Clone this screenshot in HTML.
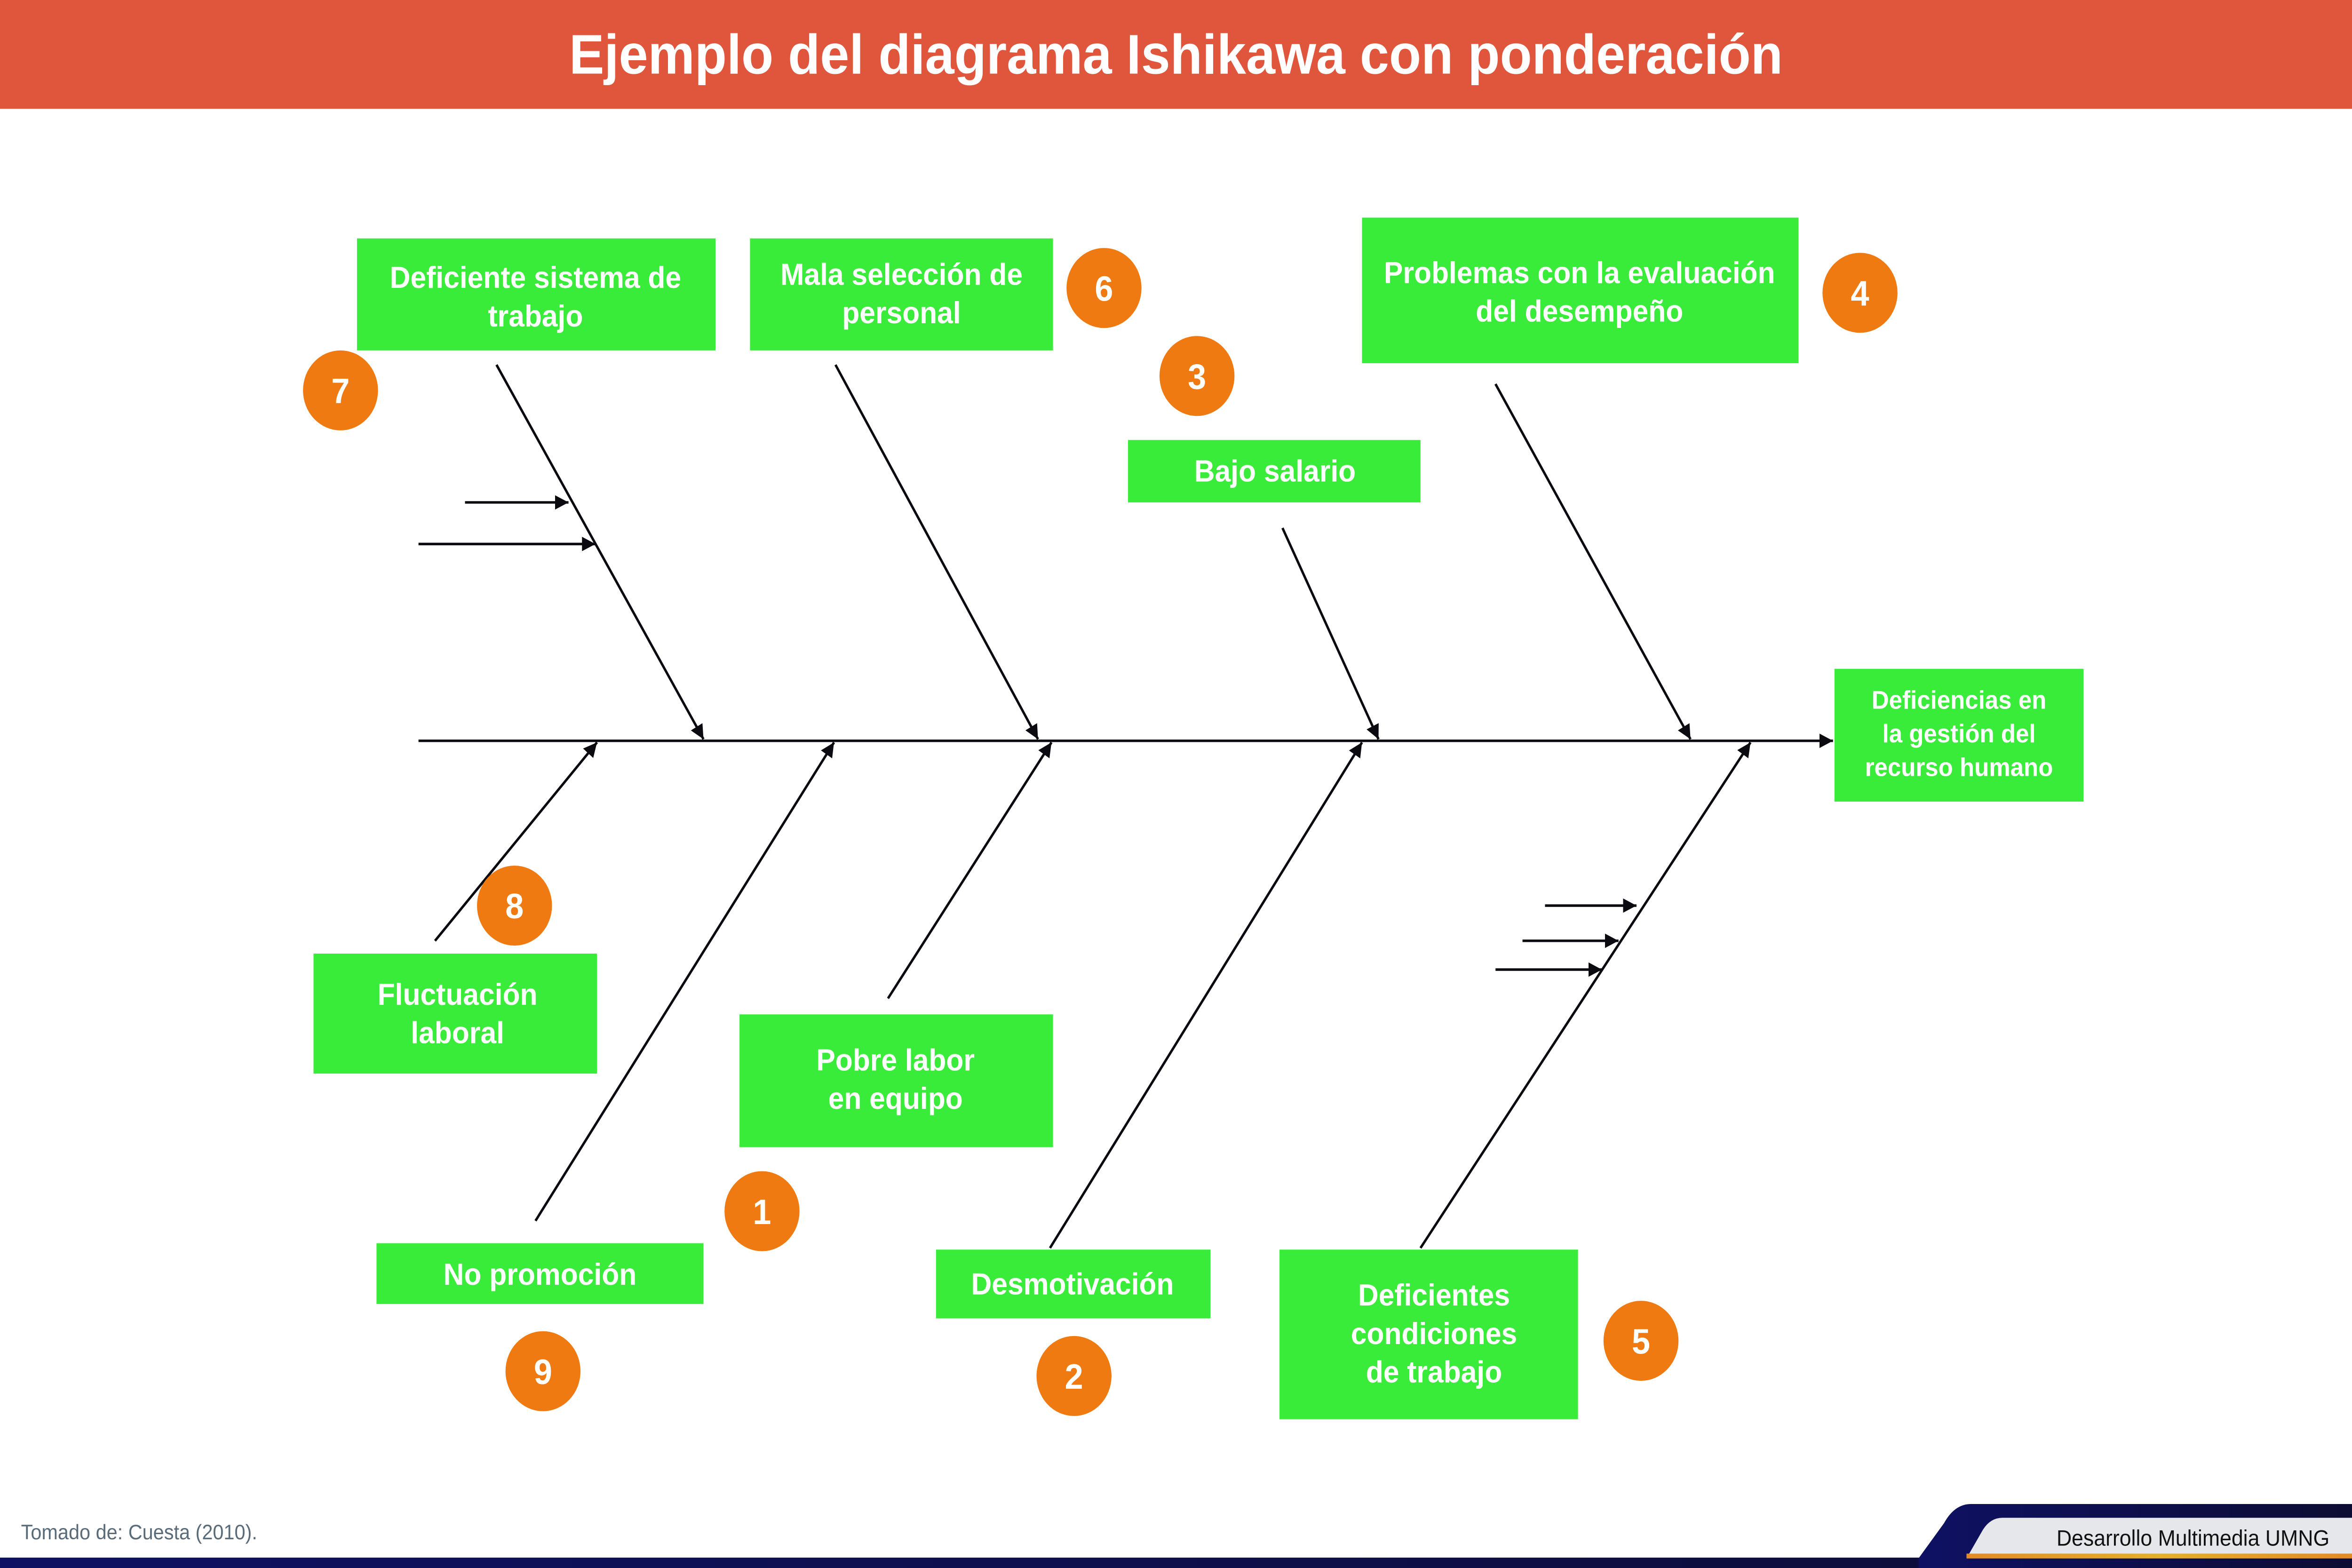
<!DOCTYPE html>
<html><head><meta charset="utf-8"><style>
html,body{margin:0;padding:0;background:#fff;width:100%;height:100%;overflow:hidden}
svg{display:block;width:100vw;height:100vh}
text{font-family:"Liberation Sans",sans-serif}
</style></head><body>
<svg viewBox="0 0 1568 980" preserveAspectRatio="none" xmlns="http://www.w3.org/2000/svg">
<defs>
<marker id="a" viewBox="0 0 10 10" refX="10" refY="5" markerWidth="9" markerHeight="9" markerUnits="userSpaceOnUse" orient="auto"><path d="M0,0 L10,5 L0,10 z" fill="#0a0a10"/></marker>
<linearGradient id="nv" x1="0" x2="1"><stop offset="0" stop-color="#0e1163"/><stop offset="1" stop-color="#0d0d33"/></linearGradient>
<linearGradient id="or" x1="0" x2="1"><stop offset="0" stop-color="#e48a24"/><stop offset="0.5" stop-color="#e3b02a"/><stop offset="1" stop-color="#e48a24"/></linearGradient>
</defs>
<rect x="0" y="0" width="1568" height="68" fill="#E0563D"/>
<text x="784" y="46" text-anchor="middle" font-size="35" font-weight="bold" fill="#fff">Ejemplo del diagrama Ishikawa con ponderación</text>

<g stroke="#0a0a10" stroke-width="1.6" fill="none" marker-end="url(#a)">
<line x1="279" y1="463" x2="1222" y2="463"/>
<line x1="331" y1="228" x2="469" y2="462"/>
<line x1="557" y1="228" x2="692" y2="462"/>
<line x1="855" y1="330" x2="919" y2="462"/>
<line x1="997" y1="240" x2="1127" y2="462"/>
<line x1="310" y1="314" x2="379" y2="314"/>
<line x1="279" y1="340" x2="397" y2="340"/>
<line x1="290" y1="588" x2="398" y2="464"/>
<line x1="357" y1="763" x2="556" y2="464"/>
<line x1="592" y1="624" x2="701" y2="464"/>
<line x1="700" y1="780" x2="908" y2="464"/>
<line x1="947" y1="780" x2="1167" y2="464"/>
<line x1="1030" y1="566" x2="1091" y2="566"/>
<line x1="1015" y1="588" x2="1079" y2="588"/>
<line x1="997" y1="606" x2="1068" y2="606"/>
</g>

<g fill="#3AEC3A">
<rect x="238" y="149" width="239" height="70"/>
<rect x="500" y="149" width="202" height="70"/>
<rect x="908" y="136" width="291" height="91"/>
<rect x="752" y="275" width="195" height="39"/>
<rect x="1223" y="418" width="166" height="83"/>
<rect x="209" y="596" width="189" height="75"/>
<rect x="493" y="634" width="209" height="83"/>
<rect x="251" y="777" width="218" height="38"/>
<rect x="624" y="781" width="183" height="43"/>
<rect x="853" y="781" width="199" height="106"/>
</g>
<g fill="#fff" font-weight="bold" text-anchor="middle" font-size="19">
<text x="357" y="180">Deficiente sistema de</text><text x="357" y="204">trabajo</text>
<text x="601" y="178">Mala selección de</text><text x="601" y="202">personal</text>
<text x="1053" y="177">Problemas con la evaluación</text><text x="1053" y="201">del desempeño</text>
<text x="850" y="301">Bajo salario</text>
<text x="1306" y="443" font-size="16">Deficiencias en</text><text x="1306" y="464" font-size="16">la gestión del</text><text x="1306" y="485" font-size="16">recurso humano</text>
<text x="305" y="628">Fluctuación</text><text x="305" y="652">laboral</text>
<text x="597" y="669">Pobre labor</text><text x="597" y="693">en equipo</text>
<text x="360" y="803">No promoción</text>
<text x="715" y="809">Desmotivación</text>
<text x="956" y="816">Deficientes</text><text x="956" y="840">condiciones</text><text x="956" y="864">de trabajo</text>
</g>

<g fill="#F07A12">
<circle cx="227" cy="244" r="25"/>
<circle cx="736" cy="180" r="25"/>
<circle cx="798" cy="235" r="25"/>
<circle cx="1240" cy="183" r="25"/>
<circle cx="343" cy="566" r="25"/>
<circle cx="508" cy="757" r="25"/>
<circle cx="362" cy="857" r="25"/>
<circle cx="716" cy="860" r="25"/>
<circle cx="1094" cy="838" r="25"/>
</g>
<g fill="#fff" font-weight="bold" text-anchor="middle" font-size="22">
<text x="227" y="252">7</text><text x="736" y="188">6</text><text x="798" y="243">3</text>
<text x="1240" y="191">4</text><text x="343" y="574">8</text><text x="508" y="765">1</text>
<text x="362" y="865">9</text><text x="716" y="868">2</text><text x="1094" y="846">5</text>
</g>

<text x="14" y="962" font-size="13" fill="#5a6b7a">Tomado de: Cuesta (2010).</text>

<rect x="0" y="973.5" width="1568" height="6.5" fill="url(#nv)"/>
<path d="M1279,974 L1296,952 Q1303,940 1314,940 L1568,940 L1568,980 L1279,980 Z" fill="url(#nv)"/>
<path d="M1311,974 L1322,956 Q1327,948.6 1335,948.6 L1568,948.6 L1568,974 Z" fill="#e6e7ea"/>
<rect x="1311" y="971" width="257" height="3" fill="url(#or)"/>
<text x="1553" y="966" text-anchor="end" font-size="14" fill="#111">Desarrollo Multimedia UMNG</text>
</svg>
</body></html>
